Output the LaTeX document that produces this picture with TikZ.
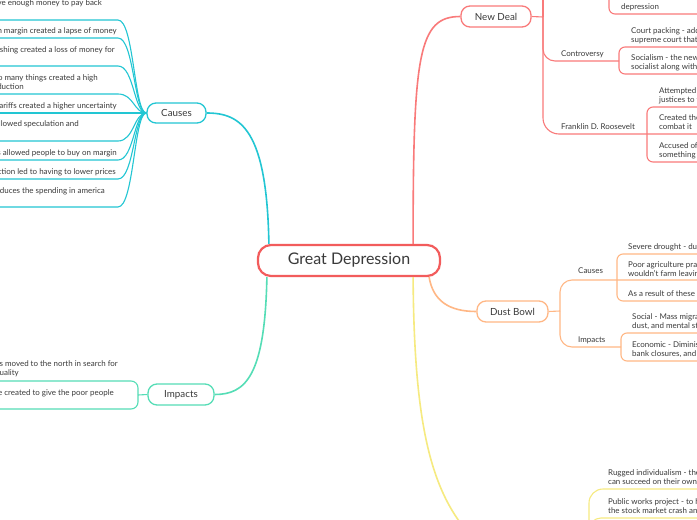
\documentclass[tikz,border=0pt]{standalone}
\usepackage{fontspec}
\setmainfont{Lato}
\definecolor{cRed}{HTML}{F25C5C}
\definecolor{cNew}{HTML}{F97A7A}
\definecolor{cCy}{HTML}{22C6D3}
\definecolor{cTe}{HTML}{55DDB6}
\definecolor{cOr}{HTML}{FFB785}
\definecolor{cYe}{HTML}{F6EA80}
\definecolor{tc}{HTML}{3A3A3A}
\begin{document}
\begin{tikzpicture}[x=1pt,y=-1pt,
  txt/.style={font=\fontsize{7.95}{9}\selectfont, text=tc, inner sep=0pt},
  lt/.style={txt, anchor=base west},
  rtx/.style={txt, anchor=base east},
  topic/.style={draw, fill=white, rounded corners=9pt, line width=1.3pt,
    font=\fontsize{9.8}{11}\selectfont, text=tc, inner sep=0pt},
  sub/.style={line width=1.1pt},
  mainln/.style={line width=1.6pt}]
\useasboundingbox (0,0) rectangle (697,520);
\fill[white] (0,0) rectangle (697,520);
\clip (0,0) rectangle (697,520);

% central and topics
\node[draw=cRed, fill=white, line width=2.2pt, rounded corners=13pt,
  minimum width=182pt, minimum height=31pt, inner sep=0pt,
  font=\fontsize{16}{18}\selectfont, text=tc] (gd) at (349,260.5) {Great Depression};
\node[topic, draw=cNew, minimum width=70pt, minimum height=21pt] (nd) at (496,16.5) {New Deal};
\node[topic, draw=cCy, minimum width=59pt, minimum height=20pt] (ca) at (176.5,113) {Causes};
\node[topic, draw=cTe, minimum width=66pt, minimum height=21pt] (im) at (181,394.5) {Impacts};
\node[topic, draw=cOr, minimum width=71pt, minimum height=21pt] (db) at (512.5,311.5) {Dust Bowl};
\coordinate (ye) at (480,545);

% main connectors
\draw[cNew, mainln] ([xshift=-28pt]gd.north east) .. controls +(0,-190) and +(-42,0) .. (nd.west);
\draw[cCy, mainln] ([xshift=12pt]gd.north west) .. controls +(-2,-115) and +(34,0) .. (ca.east);
\draw[cTe, mainln] ([xshift=10pt]gd.south west) .. controls +(-2,99) and +(31,0) .. (im.east);
\draw[cOr, mainln] ([xshift=-12pt]gd.south east) .. controls +(4,24) and +(-27,0) .. (db.west);
\draw[cYe, mainln] ([xshift=-28pt]gd.south east) .. controls +(1,154) and (432,500) .. (ye);

% Causes (left)
\foreach \yy in {20,38,66,94,141,160,179,207}
  \draw[cCy, sub] (-10,\yy) -- (118,\yy) .. controls (134,\yy) and (134,113) .. (ca.west);
\draw[cCy, sub] (-10,113) -- (ca.west);
\node[rtx] (c1) at (102,5) {have enough money to pay back};
\node[rtx] (c2) at (117,33.5) {on margin created a lapse of money};
\node[rtx] (c3) at (115,52.5) {crashing created a loss of money for};
\node[rtx] (c4a) at (98,80.5) {too many things created a high};
\node[rtx] (c4b) at (24,89.5) {production};
\node[rtx] (c5) at (117,108.5) {tariffs created a higher uncertainty};
\node[rtx] (c6) at (79,126.5) {allowed speculation and};
\node[rtx] (c7) at (117,155.5) {ans allowed people to buy on margin};
\node[rtx] (c8) at (116,174.5) {duction led to having to lower prices};
\node[rtx] (c9) at (105,193.5) {reduces the spending in america};

% Impacts (left)
\draw[cTe, sub, rounded corners=7pt] (-10,381) -- (138,381) -- (138,409) -- (-10,409);
\draw[cTe, sub] (138,395) -- (im.west);
\node[rtx] (i1a) at (118,366.5) {cans moved to the north in search for};
\node[rtx] (i1b) at (19,375.5) {equality};
\node[rtx] (i2) at (114,395.5) {were created to give the poor people};

% New Deal branch
\draw[cNew, sub] (nd.east) -- (543,17);
\draw[cNew, sub] (543,17) -- (543,-30);
\draw[cNew, sub, rounded corners=12pt] (543,17) -- (543,61) -- (619,61);
\draw[cNew, sub, rounded corners=16pt] (543,17) -- (543,134) -- (710,134);
\draw[cNew, sub, rounded corners=6pt] (609,-20) -- (609,14) -- (710,14);
\draw[cNew, sub, rounded corners=6pt] (710,47) -- (619,47) -- (619,74) -- (710,74);
\draw[cNew, sub, rounded corners=6pt] (710,107) -- (647,107) -- (647,162) -- (710,162);
\node[lt] (nd0) at (621,9) {depression};
\node[lt] (cv) at (561,56) {Controversy};
\node[lt] (cv1a) at (631,33) {Court packing - adding};
\node[lt] (cv1b) at (631,42) {supreme court that};
\node[lt] (cv2a) at (631,60) {Socialism - the new};
\node[lt] (cv2b) at (631,69) {socialist along with};
\node[lt] (fdr) at (561,129.5) {Franklin D. Roosevelt};
\node[lt] (f1a) at (659,93) {Attempted};
\node[lt] (f1b) at (659,102) {justices to the};
\node[lt] (f2a) at (659,120) {Created the};
\node[lt] (f2b) at (659,129) {combat it};
\node[lt] (f3a) at (659,148) {Accused of};
\node[lt] (f3b) at (659,157) {something like};

% Dust Bowl branch
\draw[cOr, sub] (db.east) -- (560,311);
\draw[cOr, sub, rounded corners=12pt] (560,311) -- (560,280) -- (710,280);
\draw[cOr, sub, rounded corners=12pt] (560,311) -- (560,347) -- (621,347);
\draw[cOr, sub, rounded corners=6pt] (710,254) -- (617,254) -- (617,301) -- (710,301);
\draw[cOr, sub, rounded corners=6pt] (710,333) -- (621,333) -- (621,361) -- (710,361);
\node[lt] (dc) at (578,273) {Causes};
\node[lt] (dc1) at (628,249) {Severe drought - dust};
\node[lt] (dc2a) at (628,267.5) {Poor agriculture practices};
\node[lt] (dc2b) at (628,276) {wouldn't farm leaving};
\node[lt] (dc3) at (628,296) {As a result of these};
\node[lt] (di) at (578,342) {Impacts};
\node[lt] (di1a) at (632,319.5) {Social - Mass migration};
\node[lt] (di1b) at (632,328) {dust, and mental stress};
\node[lt] (di2a) at (632,347) {Economic - Diminished};
\node[lt] (di2b) at (632,356) {bank closures, and};

% yellow branch (bottom)
\draw[cYe, sub, rounded corners=14pt] (589,560) -- (589,489) -- (710,489);
\draw[cYe, sub, rounded corners=12pt] (589,560) -- (589,518) -- (710,518);
\node[lt] (y1a) at (608,475.5) {Rugged individualism - the};
\node[lt] (y1b) at (608,484.5) {can succeed on their own};
\node[lt] (y2a) at (608,504) {Public works project - to help};
\node[lt] (y2b) at (608,513) {the stock market crash and};
\end{tikzpicture}
\end{document}
